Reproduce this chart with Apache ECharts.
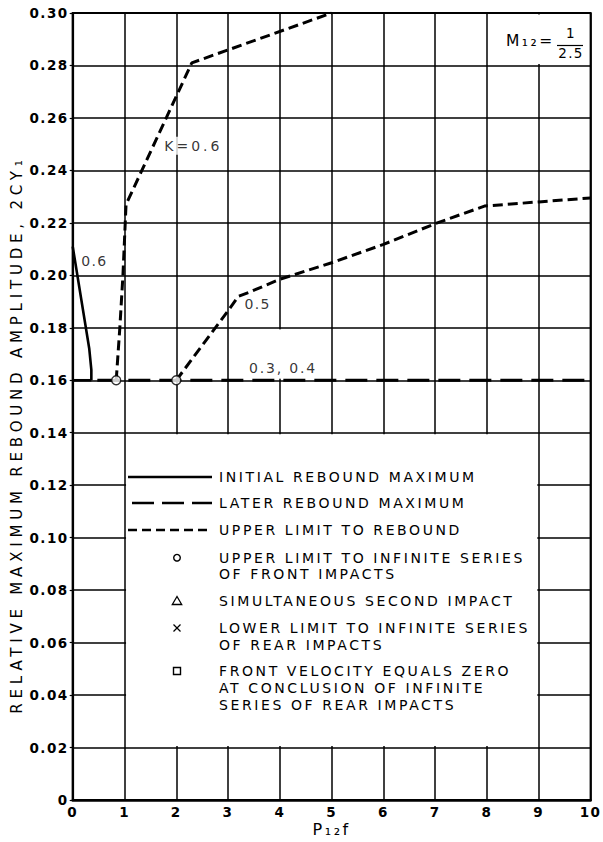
<!DOCTYPE html>
<html><head><meta charset="utf-8">
<script src="https://cdn.jsdelivr.net/npm/echarts@6/dist/echarts.min.js"></script>
<style>
html,body{margin:0;padding:0;background:#fff;}
#c{width:603px;height:842px;}
</style></head><body><div id="c"></div>
<script>
// ---- data ----
const xTickLabels = ['0','1','2','3','4','5','6','7','8','9','10'];
const yTickLabels = ['0','0.02','0.04','0.06','0.08','0.10','0.12','0.14','0.16','0.18','0.20','0.22','0.24','0.26','0.28','0.30'];
const initialK06 = [[0,0.211],[0.32,0.172],[0.36,0.164],[0.36,0.160]];
const initialBase = [[0,0.160],[0.36,0.160]];
const laterK034 = [[0.36,0.160],[10,0.160]];
const upperK06 = [[0.84,0.160],[0.91,0.180],[0.97,0.200],[1.03,0.227],[2.3,0.281],[5.0,0.300]];
const upperK05 = [[2.0,0.160],[3.0,0.1865],[3.2,0.192],[3.4,0.1935],[4,0.1985],[5,0.2048],[6,0.2118],[7,0.2197],[7.95,0.2264],[9,0.228],[10,0.2295]];
const frontLimitPts = [[0.84,0.160],[2.0,0.160]];
const annotationTexts = ['K=0.6','0.6','0.5','0.3, 0.4'];
const annotationAt = [[2.33,0.2494],[0.42,0.2053],[3.57,0.189],[4.06,0.1646]];
const legendTexts = ['INITIAL REBOUND MAXIMUM','LATER REBOUND MAXIMUM','UPPER LIMIT TO REBOUND',
  'UPPER LIMIT TO INFINITE SERIES\nOF FRONT IMPACTS','SIMULTANEOUS SECOND IMPACT',
  'LOWER LIMIT TO INFINITE SERIES\nOF REAR IMPACTS','FRONT VELOCITY EQUALS ZERO\nAT CONCLUSION OF INFINITE\nSERIES OF REAR IMPACTS'];
// white blank regions (legend box, ratio box, label gap)
const blankAreas = [[[1.03,0.0206],[8.97,0.1394]],[[8.03,0.2806],[9.97,0.2994]],[[3.96,0.1606],[4.04,0.1794]]];

const FONT = '"DejaVu Sans", sans-serif';
const chart = echarts.init(document.getElementById('c'), null, {renderer:'svg'});

const legendY = [477, 503, 530, 566, 601, 636.5, 688];
const graphics = [];
const Z = 50;
// legend line samples
graphics.push({type:'line', z:Z, shape:{x1:128,y1:477,x2:212,y2:477}, style:{stroke:'#000',lineWidth:2.6}});
graphics.push({type:'line', z:Z, shape:{x1:128,y1:503,x2:212,y2:503}, style:{stroke:'#000',lineWidth:2.6,lineDash:[22,8],lineDashOffset:-4}});
graphics.push({type:'line', z:Z, shape:{x1:128,y1:530,x2:212,y2:530}, style:{stroke:'#000',lineWidth:2.6,lineDash:[9,5]}});
// legend symbols
graphics.push({type:'circle', z:Z, shape:{cx:177,cy:557.7,r:3.3}, style:{fill:'#fff',stroke:'#000',lineWidth:1.4}});
graphics.push({type:'polygon', z:Z, shape:{points:[[177,596.5],[172.3,604.5],[181.7,604.5]]}, style:{fill:'none',stroke:'#000',lineWidth:1.3}});
graphics.push({type:'line', z:Z, shape:{x1:173.5,y1:624.5,x2:180.5,y2:631.5}, style:{stroke:'#000',lineWidth:1.3}});
graphics.push({type:'line', z:Z, shape:{x1:180.5,y1:624.5,x2:173.5,y2:631.5}, style:{stroke:'#000',lineWidth:1.3}});
graphics.push({type:'rect', z:Z, shape:{x:173.5,y:667.5,width:7,height:7}, style:{fill:'none',stroke:'#000',lineWidth:1.4}});
legendTexts.forEach((t,i)=>{
  graphics.push({type:'text', z:Z, x:219, y:legendY[i], style:{text:t, font:'14px '+FONT, fill:'#000',
    textAlign:'left', textVerticalAlign:'middle', verticalAlign:'middle', lineHeight:16.8}});
});
// ratio label M12 = 1/2.5
graphics.push({type:'text', z:Z, x:506, y:41, style:{text:'M₁₂=', font:'15.5px '+FONT, fill:'#000', textAlign:'left', textVerticalAlign:'middle', verticalAlign:'middle'}});
graphics.push({type:'text', z:Z, x:571, y:33, style:{text:'1', font:'13.5px '+FONT, fill:'#000', textAlign:'center', textVerticalAlign:'middle', verticalAlign:'middle'}});
graphics.push({type:'line', z:Z, shape:{x1:557,y1:45.5,x2:583,y2:45.5}, style:{stroke:'#000',lineWidth:1.2}});
graphics.push({type:'text', z:Z, x:571, y:53, style:{text:'2.5', font:'13.5px '+FONT, fill:'#000', textAlign:'center', textVerticalAlign:'middle', verticalAlign:'middle'}});

const axisLabelStyle = {color:'#000', fontFamily:FONT, fontSize:13.5, fontWeight:'bold'};

const option = {
  animation:false,
  backgroundColor:'#fff',
  textStyle:{fontFamily:FONT, color:'#000'},
  grid:{left:72.7, right:5.3, top:13, bottom:40, show:true, borderColor:'#000', borderWidth:2, backgroundColor:'#fff'},
  xAxis:{type:'value', min:0, max:10, interval:1,
    name:'P₁₂f', nameLocation:'middle', nameGap:21, nameMoveOverlap:false,
    nameTextStyle:{color:'#000', fontFamily:FONT, fontSize:16, verticalAlign:'top', lineHeight:16},
    axisLine:{show:true, onZero:false, lineStyle:{color:'#000', width:2.5}},
    axisTick:{show:false},
    axisLabel:Object.assign({margin:6, lineHeight:12, formatter:(v)=>xTickLabels[Math.round(v)]}, axisLabelStyle),
    splitLine:{show:true, lineStyle:{color:'#000', width:1.5}}},
  yAxis:{type:'value', min:0, max:0.30, interval:0.02,
    name:'RELATIVE MAXIMUM REBOUND AMPLITUDE, 2CY₁', nameLocation:'middle', nameGap:47, nameRotate:90,
    nameTextStyle:{color:'#000', fontFamily:FONT, fontSize:15, padding:[0,56,0,0]},
    axisLine:{show:true, onZero:false, lineStyle:{color:'#000', width:2.2}},
    axisTick:{show:true, length:3, lineStyle:{color:'#000', width:1.2}},
    axisLabel:Object.assign({margin:4, formatter:(v)=>yTickLabels[Math.round(v/0.02)]}, axisLabelStyle),
    splitLine:{show:true, lineStyle:{color:'#000', width:1.5}}},
  graphic:{elements:graphics},
  series:[
    {type:'line', name:'blank', data:[], silent:true,
      markArea:{silent:true, itemStyle:{color:'#fff', opacity:1, borderWidth:0},
        data:blankAreas.map(a=>[{coord:a[0]},{coord:a[1]}])}},
    {type:'line', name:'INITIAL REBOUND MAXIMUM K=0.6', data:initialK06, showSymbol:false, symbol:'none',
      lineStyle:{color:'#000', width:2.6, type:'solid'}},
    {type:'line', name:'INITIAL REBOUND MAXIMUM', data:initialBase, showSymbol:false, symbol:'none',
      lineStyle:{color:'#000', width:2.6, type:'solid'}},
    {type:'line', name:'LATER REBOUND MAXIMUM', data:laterK034, showSymbol:false, symbol:'none',
      lineStyle:{color:'#000', width:2.8, type:[22,9], dashOffset:-6}},
    {type:'line', name:'UPPER LIMIT K=0.6', data:upperK06, showSymbol:false, symbol:'none',
      lineStyle:{color:'#000', width:3, type:[10,5]}},
    {type:'line', name:'UPPER LIMIT K=0.5', data:upperK05, showSymbol:false, symbol:'none',
      lineStyle:{color:'#000', width:3, type:[10,5]}},
    {type:'scatter', name:'UPPER LIMIT TO INFINITE SERIES OF FRONT IMPACTS', data:frontLimitPts, symbol:'circle', symbolSize:9, z:5,
      itemStyle:{color:'#fff', borderColor:'#000', borderWidth:1.4}},
    {type:'scatter', name:'labels', symbolSize:0, z:4, silent:true,
      data:annotationAt.map((p,i)=>({value:p, label:{formatter:annotationTexts[i],
        backgroundColor:(i===0||i===3)?'#fff':'transparent', padding:[2,3]}})),
      label:{show:true, position:'inside', color:'#000', fontFamily:FONT, fontSize:14}}
  ]
};
chart.setOption(option);

function spacingFor(t){
  if (t.indexOf('RELATIVE')===0) return '4.8px';
  if (t==='P₁₂f' || t==='M₁₂=') return '2.5px';
  if (/^[A-Z]{2,}/.test(t)) return '2.6px';
  if (t==='K=0.6') return '3px';
  if (t==='0.3, 0.4') return '1.8px';
  if (t==='0.5' || t==='0.6' || t==='1' || t==='2.5') return '1.3px';
  return '1.5px';
}
function applySpacing(){
  document.querySelectorAll('#c svg text').forEach(el=>{
    el.style.letterSpacing = spacingFor(el.textContent || '');
  });
}
chart.on('finished', applySpacing);
applySpacing();
setTimeout(applySpacing, 50);
</script></body></html>
